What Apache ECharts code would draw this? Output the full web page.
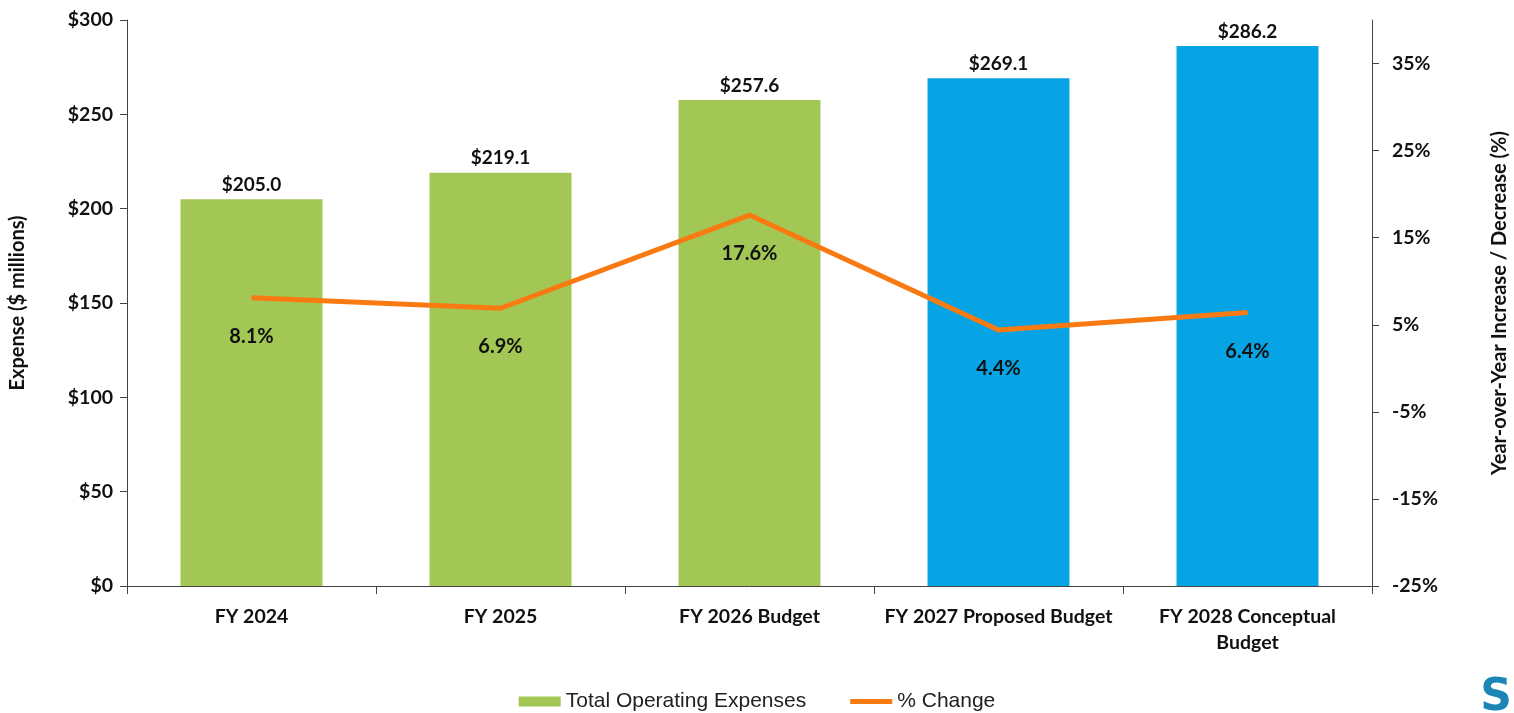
<!DOCTYPE html>
<html>
<head>
<meta charset="utf-8">
<script src="https://cdn.jsdelivr.net/npm/echarts@6/dist/echarts.min.js"></script>
<style>
  html, body { margin: 0; padding: 0; background: #fff; }
  #chart { width: 1514px; height: 713px; }
</style>
</head>
<body>
<div id="chart"></div>
<script>
var categories = ["FY 2024", "FY 2025", "FY 2026 Budget", "FY 2027 Proposed Budget", "FY 2028 Conceptual\nBudget"];
var expenses = [205.0, 219.1, 257.6, 269.1, 286.2];
var pctChange = [8.1, 6.9, 17.6, 4.4, 6.4];
var barColors = ["#A2C754", "#A2C754", "#A2C754", "#06A4E4", "#06A4E4"];

var labelFont = "Lato, 'Open Sans', sans-serif";

var chart = echarts.init(document.getElementById("chart"));
var option = {
  animation: false,
  textStyle: { fontFamily: labelFont },
  grid: { left: 127, right: 142, top: 20, bottom: 127, outerBoundsMode: "none" },
  //图例
  legend: {
    bottom: -4,
    left: "center",
    itemGap: 44,
    itemWidth: 42,
    itemHeight: 10,
    textStyle: { fontFamily: "'Liberation Sans', Arial, sans-serif", fontSize: 21, color: "#222" },
    data: [
      { name: "Total Operating Expenses", icon: "rect", itemStyle: { color: "#A2C754" } },
      { name: "% Change", icon: "path://M0,0 L42,0 L42,5 L0,5 Z", itemStyle: { color: "#FA7A12" } }
    ]
  },
  xAxis: {
    type: "category",
    data: categories,
    axisLine: { lineStyle: { color: "#444", width: 1 } },
    axisTick: { show: true, length: 8, lineStyle: { color: "#444" } },
    axisLabel: {
      color: "#111",
      fontWeight: "bold",
      fontSize: 19.5,
      margin: 18,
      lineHeight: 26,
      interval: 0
    }
  },
  yAxis: [
    {
      type: "value",
      min: 0,
      max: 300,
      interval: 50,
      name: "Expense ($ millions)",
      nameLocation: "middle",
      nameGap: 99,
      nameTextStyle: { fontWeight: "bold", fontSize: 20, color: "#111" },
      axisLine: { show: true, lineStyle: { color: "#444" } },
      axisTick: { show: true, length: 7, lineStyle: { color: "#444" } },
      splitLine: { show: false },
      axisLabel: {
        color: "#111",
        fontWeight: "bold",
        fontSize: 19.5,
        margin: 14,
        formatter: function (v) { return "$" + v; }
      }
    },
    {
      type: "value",
      min: -25,
      max: 40,
      interval: 10,
      name: "Year-over-Year Increase / Decrease (%)",
      nameLocation: "middle",
      nameGap: 118,
      nameRotate: 90,
      nameTextStyle: { fontWeight: "bold", fontSize: 20, color: "#111" },
      axisLine: { show: true, lineStyle: { color: "#444" } },
      axisTick: { show: true, length: 7, lineStyle: { color: "#444" } },
      splitLine: { show: false },
      axisLabel: {
        color: "#111",
        fontWeight: "bold",
        fontSize: 19.5,
        margin: 20,
        showMaxLabel: false,
        formatter: function (v) { return v === 40 ? "" : v + "%"; }
      }
    }
  ],
  series: [
    {
      name: "Total Operating Expenses",
      type: "bar",
      yAxisIndex: 0,
      barWidth: "57%",
      data: expenses,
      itemStyle: {
        color: function (params) {
          return barColors[params.dataIndex];
        }
      },
      label: {
        show: true,
        position: "top",
        distance: 5,
        color: "#111",
        fontWeight: "bold",
        fontSize: 19,
        formatter: function (p) { return "$" + p.value.toFixed(1); }
      }
    },
    {
      name: "% Change",
      type: "line",
      yAxisIndex: 1,
      data: pctChange,
      symbol: "circle",
      symbolSize: 1,
      showSymbol: true,
      lineStyle: { color: "#FA7A12", width: 5 },
      itemStyle: { color: "#FA7A12" },
      label: {
        show: true,
        position: "bottom",
        distance: 28,
        color: "#111",
        fontWeight: "bold",
        fontSize: 20,
        formatter: function (p) { return p.value.toFixed(1) + "%"; }
      }
    }
  ],
  graphic: [
    {
      type: "text",
      right: 2,
      bottom: -8,
      style: {
        text: "S",
        font: "bold 44px 'DejaVu Sans', sans-serif",
        fill: "#1B86B5"
      }
    }
  ]
};
chart.setOption(option);
</script>
</body>
</html>
